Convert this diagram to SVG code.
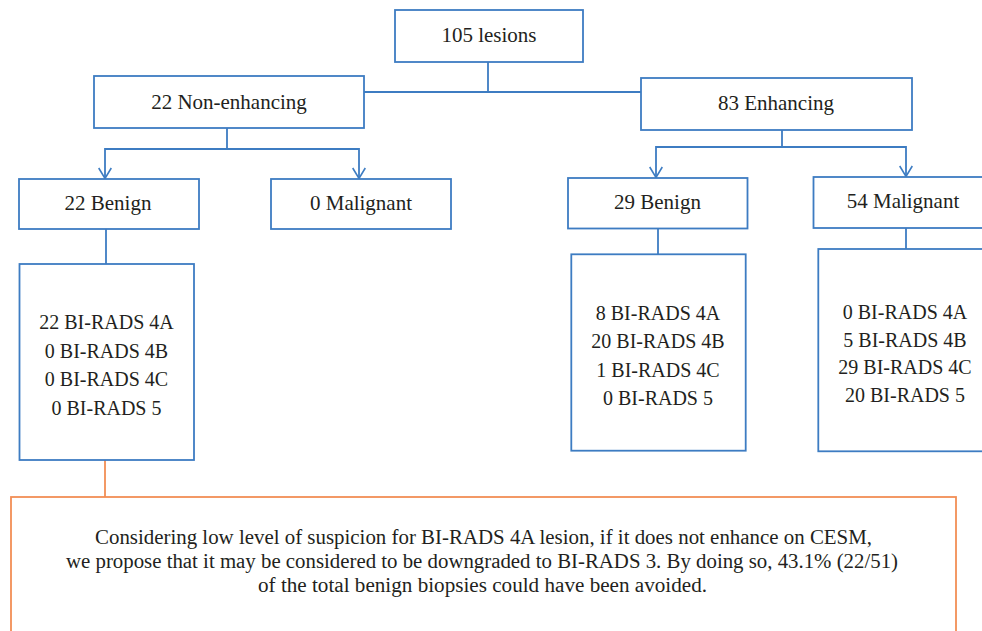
<svg xmlns="http://www.w3.org/2000/svg" width="982" height="631" viewBox="0 0 982 631">
<defs>
<style>
.b{fill:#fff;stroke:#3D7CC2;stroke-width:1.8}
.o{fill:#fff;stroke:#F28E55;stroke-width:1.8}
.c{fill:none;stroke:#3D7CC2;stroke-width:1.8}
.co{fill:none;stroke:#F28E55;stroke-width:1.8}
.ah{fill:none;stroke:#3D7CC2;stroke-width:1.6}
text{font-family:"Liberation Serif","Times New Roman",serif;fill:#231F20;text-anchor:middle}
.l{font-size:21px}
.s{font-size:20px}
</style>
</defs>
<rect width="982" height="631" fill="#fff"/>
<g id="connectors">
<path class="c" d="M488,62 V92 M364,92 H641"/>
<path class="c" d="M227,128 V149 H105 V178 M227,149 H359 V178"/>
<path class="c" d="M782,130 V147 H656 V177 M782,147 H906 V176"/>
<path class="c" d="M106,229 V264"/>
<path class="c" d="M658,229 V254"/>
<path class="c" d="M906,228 V249"/>
<path class="co" d="M105,460 V497"/>
<path class="ah" d="M98.7,168 L105,178.5 L111.3,168"/>
<path class="ah" d="M352.7,168 L359,178.5 L365.3,168"/>
<path class="ah" d="M649.7,167 L656,177.5 L662.3,167"/>
<path class="ah" d="M899.7,166 L906,176.5 L912.3,166"/>
</g>
<g id="n105"><rect class="b" x="395" y="10" width="188" height="52"/><text class="l" x="489" y="42">105 lesions</text></g>
<g id="nNon"><rect class="b" x="94" y="76" width="270" height="52"/><text class="l" x="229" y="109">22 Non-enhancing</text></g>
<g id="nEnh"><rect class="b" x="641" y="78" width="271" height="52"/><text class="l" x="776" y="110">83 Enhancing</text></g>
<g id="nBen1"><rect class="b" x="19" y="179" width="180" height="50"/><text class="l" x="108" y="210">22 Benign</text></g>
<g id="nMal1"><rect class="b" x="271" y="179" width="180" height="50"/><text class="l" x="361" y="210">0 Malignant</text></g>
<g id="nBen2"><rect class="b" x="568" y="178" width="179.5" height="50.5"/><text class="l" x="657.5" y="209">29 Benign</text></g>
<g id="nMal2"><rect class="b" x="813.5" y="177" width="180" height="51"/><text class="l" x="903" y="208">54 Malignant</text></g>
<g id="nBR1"><rect class="b" x="19.5" y="264" width="174.5" height="196"/>
<text class="s" x="106.5" y="329">22 BI-RADS 4A</text>
<text class="s" x="106.5" y="357.5">0 BI-RADS 4B</text>
<text class="s" x="106.5" y="386">0 BI-RADS 4C</text>
<text class="s" x="106.5" y="414.5">0 BI-RADS 5</text></g>
<g id="nBR2"><rect class="b" x="571.3" y="254.3" width="174.4" height="196.4"/>
<text class="s" x="658" y="319.5">8 BI-RADS 4A</text>
<text class="s" x="658" y="348">20 BI-RADS 4B</text>
<text class="s" x="658" y="376.5">1 BI-RADS 4C</text>
<text class="s" x="658" y="405">0 BI-RADS 5</text></g>
<g id="nBR3"><rect class="b" x="818.3" y="249" width="180" height="202.3"/>
<text class="s" x="905" y="319">0 BI-RADS 4A</text>
<text class="s" x="905" y="346.5">5 BI-RADS 4B</text>
<text class="s" x="905" y="374">29 BI-RADS 4C</text>
<text class="s" x="905" y="401.5">20 BI-RADS 5</text></g>
<g id="nNote"><rect class="o" x="11" y="497" width="945" height="150"/>
<text class="s" x="483.5" y="544" textLength="777" lengthAdjust="spacingAndGlyphs">Considering low level of suspicion for BI-RADS 4A lesion, if it does not enhance on CESM,</text>
<text class="s" x="482" y="568" textLength="832" lengthAdjust="spacingAndGlyphs">we propose that it may be considered to be downgraded to BI-RADS 3. By doing so, 43.1% (22/51)</text>
<text class="s" x="482.5" y="592" textLength="449" lengthAdjust="spacingAndGlyphs">of the total benign biopsies could have been avoided.</text></g>
</svg>
